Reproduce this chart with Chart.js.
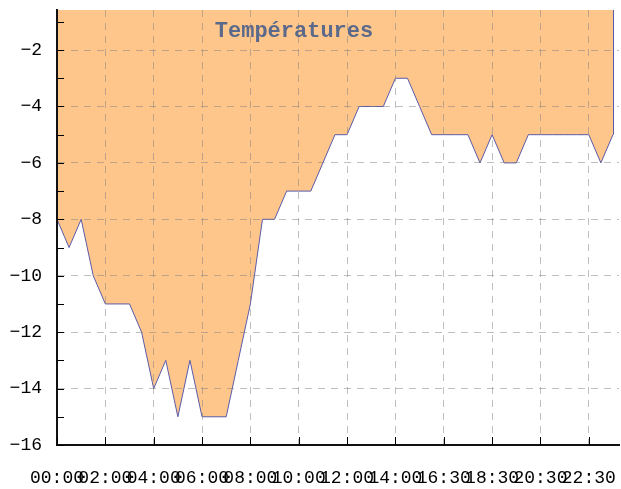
<!DOCTYPE html>
<html>
<head>
<meta charset="utf-8">
<title>Températures</title>
<script src="https://cdn.jsdelivr.net/npm/chart.js@4/dist/chart.umd.min.js"></script>
<style>
  html,body{margin:0;padding:0;background:#fff;}
  canvas{display:block;}
</style>
</head>
<body>
<canvas id="chartTemp" width="621" height="489"></canvas>
<script>
// Données : relevés toutes les 30 min (15:00 manquant)
const heures = ['00:00','00:30','01:00','01:30','02:00','02:30','03:00','03:30','04:00','04:30',
  '05:00','05:30','06:00','06:30','07:00','07:30','08:00','08:30','09:00','09:30',
  '10:00','10:30','11:00','11:30','12:00','12:30','13:00','13:30','14:00','14:30',
  '15:30','16:00','16:30','17:00','17:30','18:00','18:30','19:00','19:30','20:00',
  '20:30','21:00','21:30','22:00','22:30','23:00','23:30'];
const temperatures = [-8,-9,-8,-10,-11,-11,-11,-12,-14,-13,
  -15,-13,-15,-15,-15,-13,-11,-8,-8,-7,
  -7,-7,-6,-5,-5,-4,-4,-4,-3,-3,
  -4,-5,-5,-5,-5,-6,-5,-6,-6,-5,
  -5,-5,-5,-5,-5,-6,-5];
const titre = 'Températures';
const yMin = -16, yMax = -0.58;

const couleurFond = 'rgb(255,198,140)';
const couleurLigne = '#5a5aa8';
const couleurGrille = 'rgba(128,128,128,0.5)';

// ticks internes + bord droit de la zone + titre
const decor = {
  id:'decor',
  afterDraw(chart){
    const ctx = chart.ctx, xs = chart.scales.x, ys = chart.scales.y, a = chart.chartArea;
    ctx.save();
    // bord droit du remplissage
    const last = temperatures.length-1;
    const lx = Math.round(xs.getPixelForValue(last))+0.5;
    ctx.strokeStyle = couleurLigne; ctx.lineWidth = 1;
    ctx.beginPath();
    ctx.moveTo(lx, ys.getPixelForValue(temperatures[last]));
    ctx.lineTo(lx, a.top);
    ctx.stroke();
    // petits ticks Y (tous les 1)
    ctx.strokeStyle = '#000';
    ctx.beginPath();
    for(let v=yMin; v<=yMax; v++){
      const py = Math.round(ys.getPixelForValue(v))+0.5;
      ctx.moveTo(a.left, py); ctx.lineTo(a.left+7, py);
    }
    // ticks X vers le haut
    xs.ticks.forEach(t=>{
      const px = Math.round(xs.getPixelForValue(t.value))+0.5;
      ctx.moveTo(px, a.bottom); ctx.lineTo(px, a.bottom-8);
    });
    ctx.stroke();
    // titre
    ctx.font = 'bold 22px "Liberation Mono"';
    ctx.fillStyle = '#5b6a8a';
    ctx.textAlign = 'center';
    ctx.textBaseline = 'alphabetic';
    ctx.fillText(titre, 294, 37);
    ctx.restore();
  }
};

new Chart(document.getElementById('chartTemp'),{
  type:'line',
  data:{
    datasets:[{
      data: temperatures.map((v,i)=>({x:i,y:v})),
      borderColor: couleurLigne,
      borderWidth: 1,
      backgroundColor: couleurFond,
      fill: 'end',
      pointRadius: 0,
      tension: 0
    }]
  },
  options:{
    responsive:false,
    animation:false,
    layout:{padding:{top:10,right:2,left:0,bottom:0}},
    plugins:{legend:{display:false},tooltip:{enabled:false}},
    scales:{
      x:{
        type:'linear', min:0, max:46.5,
        afterFit(s){ s.height = 44; s.paddingLeft = 0; s.paddingRight = 0; },
        border:{display:true,color:'#111',width:2,dash:[7,6],z:2},
        grid:{color:couleurGrille,drawTicks:false,z:1},
        ticks:{
          stepSize:4, includeBounds:false, autoSkip:false, maxRotation:0, padding:22,
          color:'#000', font:{family:'"Liberation Mono"',size:18},
          callback:(v)=>heures[v]
        }
      },
      y:{
        min:yMin, max:yMax,
        afterFit(s){ s.width = 57; s.paddingTop = 0; s.paddingBottom = 0; },
        border:{display:true,color:'#111',width:2,dash:[7,6],z:2},
        grid:{color:couleurGrille,drawTicks:false,z:1},
        ticks:{
          stepSize:2, includeBounds:false, padding:15,
          color:'#000', font:{family:'"Liberation Mono"',size:18},
          callback:(v)=> v<0 ? '\u2212'+Math.abs(v) : String(v)
        }
      }
    }
  },
  plugins:[decor]
});
</script>
</body>
</html>
